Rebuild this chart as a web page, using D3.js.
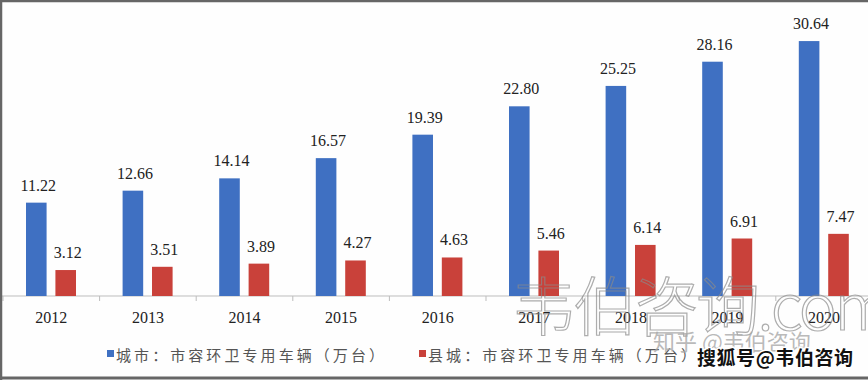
<!DOCTYPE html>
<html><head><meta charset="utf-8">
<script src="https://cdn.jsdelivr.net/npm/d3@7/dist/d3.min.js"></script>
<style>
html,body{margin:0;padding:0;background:#fff;}
svg{display:block;}
</style></head>
<body>
<svg id="chart" width="868" height="380"></svg>
<script>
const years = ["2012","2013","2014","2015","2016","2017","2018","2019","2020"];
const cityValues = [11.22,12.66,14.14,16.57,19.39,22.80,25.25,28.16,30.64];
const countyValues = [3.12,3.51,3.89,4.27,4.63,5.46,6.14,6.91,7.47];
const seriesNames = ["城市：市容环卫专用车辆（万台）","县城：市容环卫专用车辆（万台）"];
const seriesKeys = ["city","county"];
const colors = ["#3f70c2","#c9413a"];

const svg = d3.select("#chart");
const W = 868, H = 380;
svg.append("rect").attr("x",0).attr("y",0).attr("width",W).attr("height",H).attr("fill","#fefefe");

const x = d3.scaleBand().domain(years).range([3, 872.4]).padding(0);
const xi = d3.scaleBand().domain(seriesKeys).range([23, 73]).paddingInner(0.3);
const y = d3.scaleLinear().domain([0, 35]).range([296, 296 - 35*8.32]);

const data = years.map((yr,i)=>({year:yr, values:[{k:"city",v:cityValues[i]},{k:"county",v:countyValues[i]}]}));

// axis
const axis = d3.axisBottom(x).tickSize(0).tickFormat(d=>d);
const gAxis = svg.append("g").attr("transform","translate(0,296)");
gAxis.append("line").attr("x1",0).attr("x2",W).attr("y1",0).attr("y2",0).attr("stroke","#bdbdbd").attr("stroke-width",1);
gAxis.selectAll(".tk").data(years.concat(["end"])).enter().append("line")
  .attr("x1",(d,i)=>3+i*x.step()).attr("x2",(d,i)=>3+i*x.step())
  .attr("y1",0).attr("y2",5).attr("stroke","#bdbdbd");
gAxis.selectAll(".yl").data(years).enter().append("text")
  .attr("x",d=>x(d)+x.bandwidth()/2).attr("y",27)
  .attr("text-anchor","middle").attr("font-family","Liberation Serif, serif")
  .attr("font-size",16).attr("fill","#222").text(d=>d);

const groups = svg.selectAll(".grp").data(data).enter().append("g")
  .attr("transform",d=>`translate(${x(d.year)},0)`);
groups.selectAll("rect").data(d=>d.values).enter().append("rect")
  .attr("x",d=>xi(d.k)).attr("width",xi.bandwidth())
  .attr("y",d=>y(d.v)).attr("height",d=>y(0)-y(d.v))
  .attr("fill",(d,i)=>colors[i]);
groups.selectAll("text").data(d=>d.values).enter().append("text")
  .attr("x",d=>xi(d.k)+xi.bandwidth()/2+2).attr("y",d=>y(d.v)-12)
  .attr("text-anchor","middle").attr("font-family","Liberation Serif, serif")
  .attr("font-size",16).attr("fill","#222").text(d=>d.v.toFixed(2));

// legend
const legX = [107, 419];
const leg = svg.selectAll(".leg").data(seriesNames).enter().append("g")
  .attr("transform",(d,i)=>`translate(${legX[i]},350)`);
leg.append("rect").attr("x",0).attr("y",0).attr("width",7).attr("height",7).attr("fill",(d,i)=>colors[i]);
leg.append("text").attr("x",9).attr("y",11).attr("font-family","Noto Sans CJK SC, sans-serif")
  .attr("font-size",15).attr("fill","#555").attr("textLength",268).attr("lengthAdjust","spacing").text(d=>d);

// watermarks
svg.append("text").attr("x",512).attr("y",330).attr("font-family","Noto Sans CJK SC, sans-serif")
  .attr("font-size",64).attr("font-weight",300).attr("fill","none").attr("stroke","#8a8a8a").attr("stroke-width",1.2)
  .attr("stroke-opacity",0.7).attr("textLength",380).text("韦伯咨询.com");
svg.append("text").attr("x",653).attr("y",350).attr("font-family","Noto Sans CJK SC, sans-serif")
  .attr("font-size",22).attr("fill","#a8a8a8").attr("fill-opacity",0.8).text("知乎 @韦伯咨询");
svg.append("text").attr("x",697).attr("y",365).attr("font-family","Noto Sans CJK SC, sans-serif")
  .attr("font-size",19).attr("font-weight",700).attr("fill","#111").attr("stroke","#fff").attr("stroke-width",3)
  .attr("paint-order","stroke").attr("textLength",156).text("搜狐号@韦伯咨询");

// border
svg.append("path").attr("d",`M1,${H} L1,1 L${W},1`).attr("fill","none").attr("stroke","#666").attr("stroke-width",2.5);
svg.append("line").attr("x1",0).attr("x2",W).attr("y1",378).attr("y2",378).attr("stroke","#666").attr("stroke-width",3);
</script>
</body></html>
